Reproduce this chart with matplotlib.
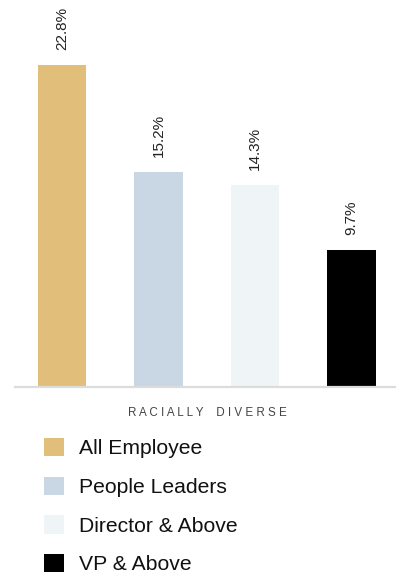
import matplotlib
matplotlib.use('Agg')
import matplotlib.pyplot as plt
from matplotlib.patches import Patch

groups = ['All Employee', 'People Leaders', 'Director & Above', 'VP & Above']
racially_diverse = [22.8, 15.2, 14.3, 9.7]
bar_colors = ['#E1BF7B', '#C9D6E3', '#EFF4F7', '#000000']
caption = 'RACIALLY DIVERSE'

plt.rcParams['font.family'] = ['Liberation Sans', 'DejaVu Sans']

fig = plt.figure(figsize=(3.96, 5.75), dpi=100)
ax = fig.add_axes([15 / 396, 1 - 387 / 575, 381 / 396, 387 / 575])

xs = list(range(len(groups)))
bars = ax.bar(xs, racially_diverse, width=0.503, color=bar_colors, zorder=2)

for bar, v in zip(bars, racially_diverse):
    ax.annotate(f'{v:.1f}%', (bar.get_x() + bar.get_width() / 2, v),
                xytext=(0, 11), textcoords='offset points',
                rotation=90, ha='center', va='bottom',
                fontsize=11, color='#222222')

ax.set_xlim(-0.487, 3.461)
ax.set_ylim(0, 27.4)
ax.set_xticks([])
ax.set_yticks([])
for side in ['top', 'left', 'right']:
    ax.spines[side].set_visible(False)
ax.spines['bottom'].set_color('#dcdcdc')
ax.spines['bottom'].set_linewidth(1.6)

# letter-spaced caption under the baseline
fig.text(207.5 / 396, 1 - 413 / 575, ' '.join(caption).replace('   ', '    '),
         ha='center', va='center', fontsize=8.4, color='#444444')

handles = [Patch(facecolor=c, edgecolor='none') for c in bar_colors]
fig.legend(handles, groups, loc='upper left',
           bbox_to_anchor=(44 / 396, 1 - 438 / 575),
           frameon=False, fontsize=15.2, handlelength=0.96, handleheight=0.96,
           handletextpad=0.72, labelspacing=0.86, borderpad=0, borderaxespad=0,
           labelcolor='#111111')

fig.savefig('out.png', dpi=100)
